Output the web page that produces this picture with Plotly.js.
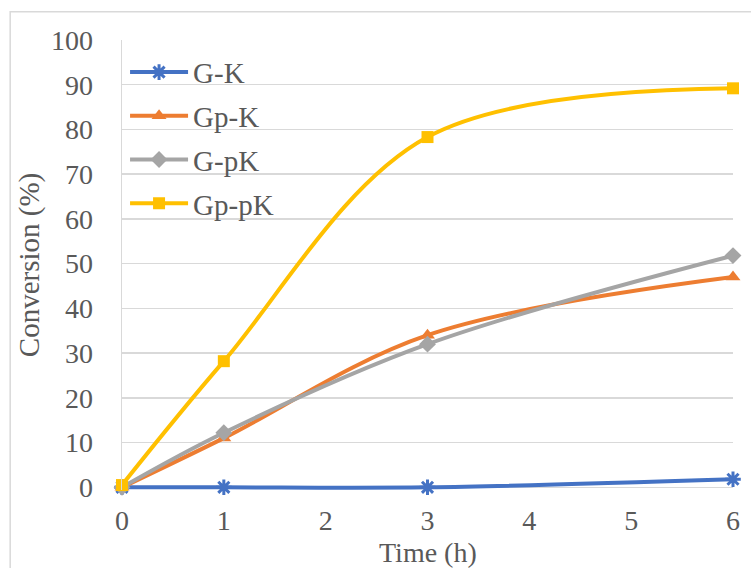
<!DOCTYPE html>
<html><head><meta charset="utf-8">
<script src="https://cdn.plot.ly/plotly-3.0.1.min.js"></script>
<style>html,body{margin:0;padding:0;background:#fff}#chart{width:751px;height:568px}</style>
</head><body><div id="chart"></div>
<script>
const time = [0, 1, 3, 6];
const seriesNames = ["G-K", "Gp-K", "G-pK", "Gp-pK"];
const gK = [0, 0, 0, 1.8];
const gpK = [0, 11, 34, 47];
const gpk2 = [0, 12.2, 32, 51.8];
const gppK = [0.5, 28.2, 78.3, 89.2];
const xTicks = [0, 1, 2, 3, 4, 5, 6];
const yTicks = [0, 10, 20, 30, 40, 50, 60, 70, 80, 90, 100];
const xTitle = "Time (h)";
const yTitle = "Conversion (%)";

const colors = ["#4472C4", "#ED7D31", "#A5A5A5", "#FFC000"];
const symbols = ["asterisk-open", "triangle-up", "diamond", "square"];
const sizes = [13, 13, 13, 12];
const values = [gK, gpK, gpk2, gppK];

const traces = values.map((v, i) => ({
  x: time, y: v, name: seriesNames[i], type: "scatter", mode: "lines+markers",
  legendgroup: "g" + i, cliponaxis: false,
  line: {color: colors[i], width: 4, shape: "spline", smoothing: 1},
  marker: {symbol: symbols[i], size: sizes[i], color: colors[i], line: {color: colors[i], width: i === 0 ? 3 : 0}}
}));

const font = {family: "'Liberation Serif', 'Times New Roman', serif", color: "#595959"};
const layout = {
  width: 751, height: 568,
  margin: {l: 122, r: 18, t: 40, b: 78},
  paper_bgcolor: "#fff", plot_bgcolor: "#fff",
  font: Object.assign({size: 28}, font),
  showlegend: true,
  legend: {x: 0.005, y: 0.985, xanchor: "left", yanchor: "top", bgcolor: "rgba(0,0,0,0)",
    font: Object.assign({size: 29}, font), tracegroupgap: 3, itemwidth: 58},
  xaxis: {range: [0, 6], tickvals: xTicks, ticktext: xTicks.map(String), showgrid: false, zeroline: false,
    showline: false, ticks: "", ticklabelstandoff: 11,
    tickfont: Object.assign({size: 28}, font)},
  yaxis: {range: [-0.6, 100], tickvals: yTicks, ticktext: yTicks.map(String), showgrid: true, gridcolor: "#D9D9D9", gridwidth: 1.5,
    zeroline: false, showline: true, linecolor: "#D9D9D9", linewidth: 1.5, ticks: "", ticklabelstandoff: 22,
    tickfont: Object.assign({size: 28}, font),
    title: {text: yTitle, font: Object.assign({size: 29}, font), standoff: 3}},
  annotations: [{text: xTitle, xref: "paper", yref: "paper", x: 0.5, y: -0.176, yshift: -1, xanchor: "center", yanchor: "bottom",
    showarrow: false, font: Object.assign({size: 28}, font)}],
  shapes: [{type: "rect", xref: "paper", yref: "paper", x0: -0.183, x1: 1.1, y0: -0.3, y1: 1.063,
    line: {color: "#D9D9D9", width: 1.5}, fillcolor: "rgba(0,0,0,0)", layer: "below"}]
};
Plotly.newPlot("chart", traces, layout, {displayModeBar: false, staticPlot: true});
</script></body></html>
